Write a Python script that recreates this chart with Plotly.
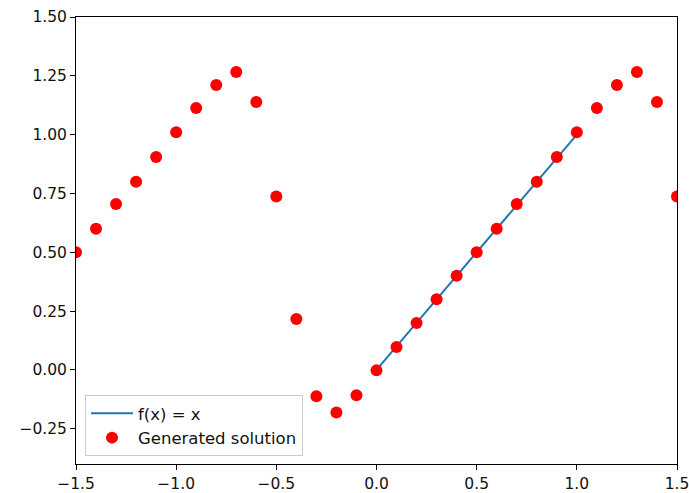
import plotly.graph_objects as go

# Data
line_x = [0.0, 1.0]
line_y = [0.0, 1.0]

sol_x = [-1.5, -1.4, -1.3, -1.2, -1.1, -1.0, -0.9, -0.8, -0.7, -0.6, -0.5,
         -0.4, -0.3, -0.2, -0.1, 0.0, 0.1, 0.2, 0.3, 0.4, 0.5, 0.6, 0.7,
         0.8, 0.9, 1.0, 1.1, 1.2, 1.3, 1.4, 1.5]
sol_y = [0.50, 0.60, 0.705, 0.80, 0.905, 1.01, 1.113, 1.211, 1.266, 1.139, 0.737,
         0.216, -0.112, -0.181, -0.108, -0.002, 0.097, 0.199, 0.30, 0.40, 0.50, 0.60, 0.705,
         0.80, 0.905, 1.01, 1.113, 1.211, 1.266, 1.139, 0.737]

x_ticks = [-1.5, -1.0, -0.5, 0.0, 0.5, 1.0, 1.5]
x_tick_text = ["\u22121.5", "\u22121.0", "\u22120.5", "0.0", "0.5", "1.0", "1.5"]
y_ticks = [-0.25, 0.0, 0.25, 0.5, 0.75, 1.0, 1.25, 1.5]
y_tick_text = ["\u22120.25", "0.00", "0.25", "0.50", "0.75", "1.00", "1.25", "1.50"]

fig = go.Figure()
fig.add_trace(go.Scatter(x=line_x, y=line_y, mode="lines", name="f(x) = x",
                         line=dict(color="#1f77b4", width=2)))
fig.add_trace(go.Scatter(x=sol_x, y=sol_y, mode="markers", name="Generated solution",
                         marker=dict(color="red", size=12, line=dict(width=0))))

axis_common = dict(showgrid=False, zeroline=False, showline=True, linecolor="black",
                   linewidth=1, mirror=True, ticks="outside", ticklen=5, tickwidth=1,
                   tickcolor="black", automargin=False, ticklabeloverflow="allow",
                   tickfont=dict(family="DejaVu Sans", size=15.5, color="#111"))

fig.update_xaxes(range=[-1.5, 1.5], tickvals=x_ticks, ticktext=x_tick_text, **axis_common)
fig.update_yaxes(range=[-0.4, 1.5], tickvals=y_ticks, ticktext=y_tick_text, **axis_common)

fig.update_layout(
    width=689, height=493,
    margin=dict(l=76, r=12, t=17, b=29),
    paper_bgcolor="white", plot_bgcolor="white",
    font=dict(family="DejaVu Sans", size=15.5, color="#111"),
    legend=dict(x=0.015, y=0.018, xanchor="left", yanchor="bottom",
                bordercolor="#cccccc", borderwidth=1, bgcolor="rgba(255,255,255,0.8)",
                font=dict(family="DejaVu Sans", size=16.5, color="#111"),
                itemwidth=42, tracegroupgap=2),
    showlegend=True,
)

fig.write_html("out.html")
